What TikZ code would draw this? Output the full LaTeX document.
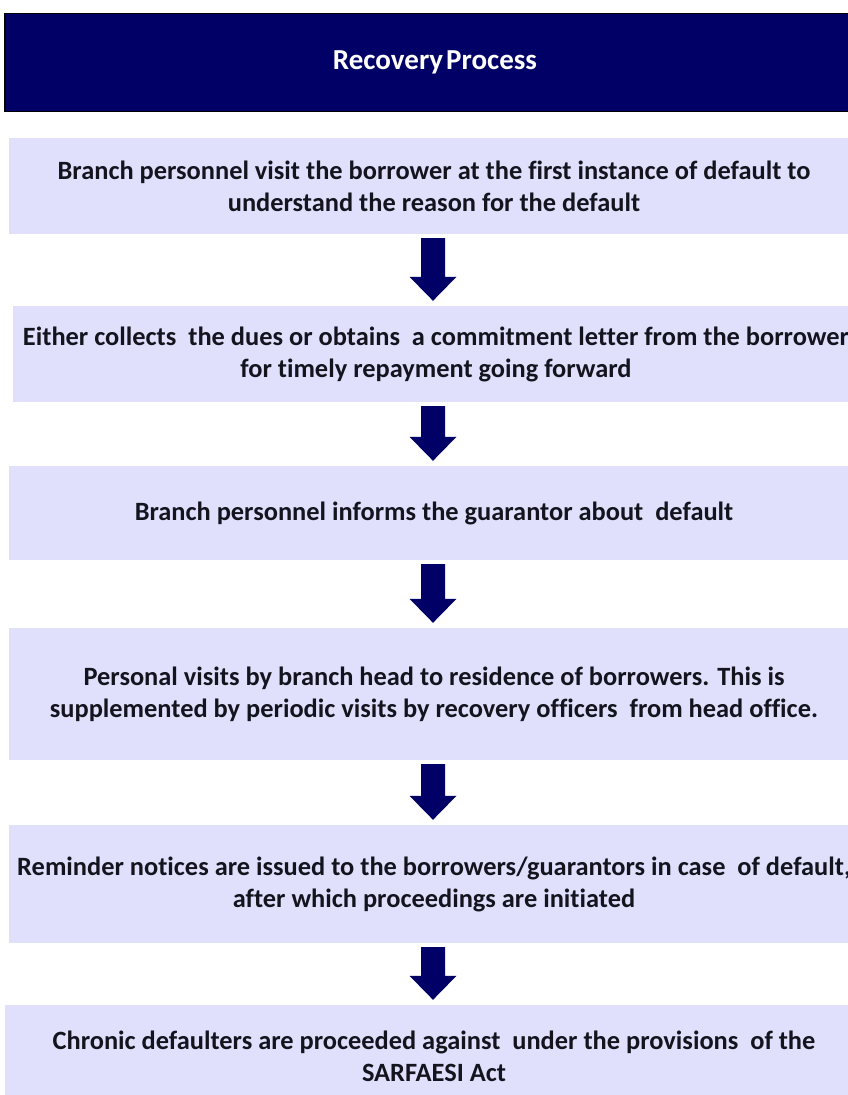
\documentclass[tikz,border=0pt]{standalone}
\usepackage{fontspec}
\setmainfont{Carlito}[Ligatures=NoCommon]
\usetikzlibrary{calc}
\definecolor{navy}{RGB}{0,0,102}
\definecolor{lav}{RGB}{224,224,252}
\definecolor{ink}{RGB}{20,20,30}
\newcommand\flowarrow[2]{%
  \fill[navy] ($(ax |- #1.south)+(-12,4)$) -- ($(ax |- #1.south)+(12,4)$)
    -- ($(ax |- #2.north)+(12,-29)$) -- ($(ax |- #2.north)+(23.5,-29)$)
    -- ($(ax |- #2.north)+(0,-5)$) -- ($(ax |- #2.north)+(-23.5,-29)$)
    -- ($(ax |- #2.north)+(-12,-29)$) -- cycle;}
\begin{document}
\begin{tikzpicture}[x=1pt,y=-1pt,
  box/.style={fill=lav, draw=none, inner sep=0pt, align=center,
    font=\bfseries\fontsize{26.4}{32}\selectfont, text=ink},
  header/.style={fill=navy, draw=black, line width=1.5pt, inner sep=0pt,
    font=\bfseries\fontsize{29}{32}\selectfont, text=white}]
\useasboundingbox (0,0) rectangle (848,1095);
\fill[white] (0,0) rectangle (848,1095);
\coordinate (ax) at (433,0);
\node[header, minimum width=860, minimum height=98] (h) at (435,62.5) {Recovery\hspace{3pt}Process};
\node[box, minimum width=850, minimum height=96] (b1) at (434,186)
  {Branch personnel visit the borrower at the first instance of default to\\understand the reason for the default};
\node[box, minimum width=846, minimum height=96] (b2) at (436,354)
  {Either collects\ \ the dues or obtains\ \ a commitment letter from the borrower\\for timely repayment going forward};
\node[box, minimum width=850, minimum height=94] (b3) at (434,513)
  {Branch personnel informs the guarantor about\ \ default};
\node[box, minimum width=850, minimum height=132] (b4) at (434,694)
  {Personal visits by branch head to residence of borrowers. This is\\supplemented by periodic visits by recovery officers\ \ from head office.};
\node[box, minimum width=850, minimum height=118] (b5) at (434,884)
  {Reminder notices are issued to the borrowers/guarantors in case\ \ of default,\\after which proceedings are initiated};
\node[box, minimum width=858, minimum height=102] (b6) at (434,1056)
  {Chronic defaulters are proceeded against\ \ under the provisions\ \ of the\\SARFAESI Act};
\flowarrow{b1}{b2}
\flowarrow{b2}{b3}
\flowarrow{b3}{b4}
\flowarrow{b4}{b5}
\flowarrow{b5}{b6}
\end{tikzpicture}
\end{document}
